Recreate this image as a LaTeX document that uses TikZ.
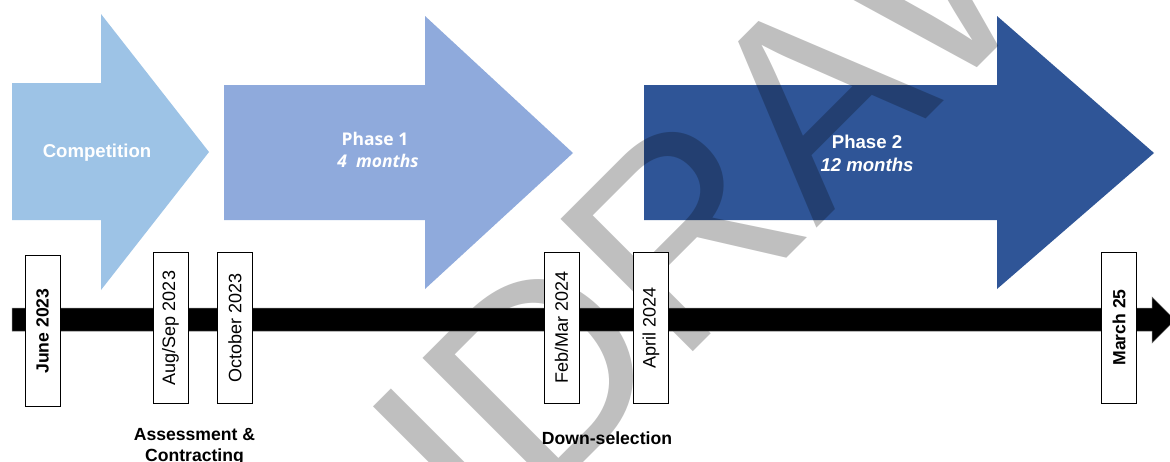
\documentclass[tikz,border=0pt]{standalone}
\usepackage{fontspec}
\setmainfont{Liberation Sans}
\newfontfamily\osans{Open Sans}
\definecolor{compblue}{HTML}{9DC3E6}
\definecolor{phonblue}{HTML}{8FAADC}
\definecolor{phtwblue}{HTML}{2F5597}
\begin{document}
\begin{tikzpicture}[x=1pt,y=-1pt,
  phasearrow/.style={draw=none},
  datebox/.style={draw=black, line width=0.8pt, fill=white, rotate=90,
    minimum width=151pt, minimum height=35pt, inner sep=0pt,
    font=\fontsize{18}{18}\selectfont},
  boldbox/.style={datebox, font=\fontsize{17.6}{18}\selectfont\bfseries},
  arrowtext/.style={text=white, inner sep=0pt, anchor=base,
    font=\fontsize{18.6}{20}\selectfont\bfseries},
  ponetext/.style={text=white, inner sep=0pt, anchor=base,
    font=\osans\fontsize{17.5}{20}\selectfont\bfseries},
  undertext/.style={text=black, inner sep=0pt, anchor=base,
    font=\fontsize{17.6}{20}\selectfont\bfseries},
  watermark/.style={text=black, text opacity=0.25, inner sep=0pt, outer sep=0pt,
    rotate=45, font=\fontsize{272}{272}\selectfont}
]
\useasboundingbox (0,0) rectangle (1170,461);
\fill[white] (0,0) rectangle (1170,461);

% phase arrows
\fill[compblue] (12,83) -- (101,83) -- (101,14) -- (209,152) -- (101,290) -- (101,220) -- (12,220) -- cycle;
\fill[phonblue] (224,85) -- (425,85) -- (425,16) -- (573,153) -- (425,289) -- (425,220) -- (224,220) -- cycle;
\fill[phtwblue] (644,85) -- (997,85) -- (997,16) -- (1154,153) -- (997,289) -- (997,220) -- (644,220) -- cycle;

\node[arrowtext] (comp) at (97,157) {Competition};
\node[ponetext] (ph1a) at (375,145) {Phase 1};
\node[ponetext, font=\osans\fontsize{17.5}{20}\selectfont\bfseries\itshape] (ph1b) at (378,167) {4\ \ months};
\node[arrowtext] (ph2a) at (867,148) {Phase 2};
\node[arrowtext, font=\fontsize{18.6}{20}\selectfont\bfseries\itshape] (ph2b) at (867,171) {12 months};

% watermark
\coordinate (wmorigin) at (539,506);
\node[watermark, anchor=base east] (wma) at (wmorigin) {WITH};
\node[watermark, anchor=base west] (wmb) at (wmorigin) {DRAWN};

% timeline
\fill[black, draw=black!55, line width=0.5pt] (12,308) -- (1152,308) -- (1152,297) -- (1175,320) -- (1152,343) -- (1152,331) -- (12,331) -- cycle;

% date boxes
\node[boldbox] (june) at (42.5,331) {June 2023};
\node[datebox] (augsep) at (170.5,328) {Aug/Sep 2023};
\node[datebox] (oct) at (235,327.5) {October 2023};
\node[datebox] (febmar) at (561.5,327.5) {Feb/Mar 2024};
\node[datebox] (april) at (651,327.5) {April 2024};
\node[boldbox] (march) at (1119,327.5) {March 25};

% labels below
\node[undertext] (assess) at (194.5,440) {Assessment \&};
\node[undertext] (contract) at (194.5,461) {Contracting};
\node[undertext] (downsel) at (607,444) {Down-selection};
\end{tikzpicture}
\end{document}
